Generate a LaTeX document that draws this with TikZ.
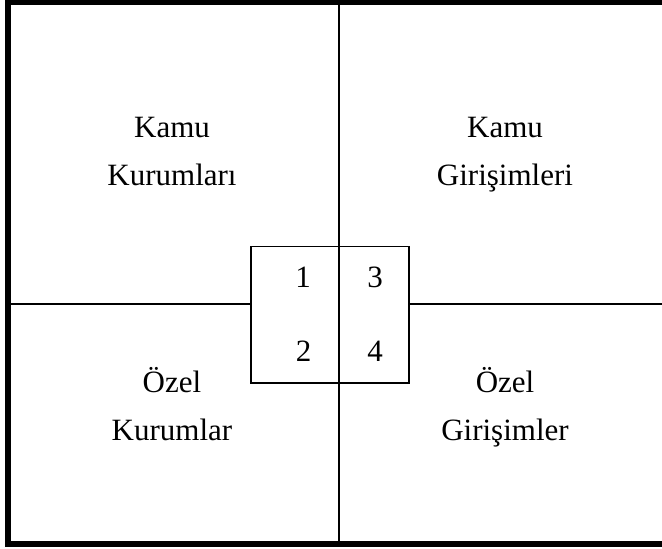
\documentclass[tikz,border=0pt]{standalone}
\usepackage{fontspec}
\setmainfont{Liberation Serif}
\usepackage{tikz}
\usetikzlibrary{positioning}

\begin{document}
\begin{tikzpicture}[x=0.5pt,y=-0.5pt,
  lbl/.style={align=center,inner sep=0pt,font=\fontsize{15.5}{24}\selectfont},
  num/.style={inner sep=0pt,font=\fontsize{15.5}{18}\selectfont}]
\useasboundingbox (0,0) rectangle (662,549);
\clip (0,0) rectangle (662,549);
% outer frame
\draw[line width=2.75pt] (8,2.5) rectangle (668,544);
% axes
\draw[line width=1pt] (339,2.5) -- (339,544);
\draw[line width=1pt] (8,304) -- (251,304);
\draw[line width=1pt] (409,304) -- (662,304);
% middle box
\draw[line width=0.75pt] (251,246.5) rectangle (409,383);

\node[lbl](ku) at (172,152) {Kamu\\Kurumları};
\node[lbl](kg) at (505,155) {Kamu\\Girişimleri};
\node[lbl](ok) at (172,404) {Özel\\Kurumlar};
\node[lbl](og) at (505,407) {Özel\\Girişimler};

\node[num](n1) at (303,277) {1};
\node[num](n3) at (375,277) {3};
\node[num](n2) at (303.5,351.5) {2};
\node[num](n4) at (375,351.5) {4};
\end{tikzpicture}
\end{document}
